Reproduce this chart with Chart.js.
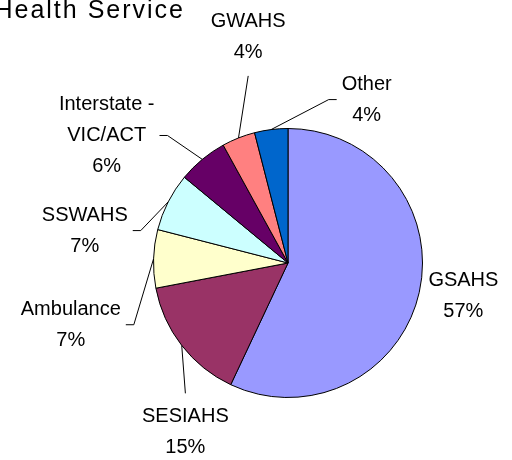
<!DOCTYPE html>
<html>
<head>
<meta charset="utf-8">
<script src="https://cdn.jsdelivr.net/npm/chart.js@4"></script>
<style>
  body { margin: 0; background: #fff; }
  canvas { display: block; }
</style>
</head>
<body>
<canvas id="taart" width="512" height="460"></canvas>
<script>
// data
var gebieden = ['GSAHS', 'SESIAHS', 'Ambulance', 'SSWAHS', 'Interstate - VIC/ACT', 'GWAHS', 'Other'];
var labelRegels = [['GSAHS'], ['SESIAHS'], ['Ambulance'], ['SSWAHS'], ['Interstate -', 'VIC/ACT'], ['GWAHS'], ['Other']];
var aandelen = [57, 15, 7, 7, 6, 4, 4];
var kleuren = ['#9999FF', '#993366', '#FFFFCC', '#CCFFFF', '#660066', '#FF8080', '#0066CC'];

// label positie t.o.v. middelpunt, in eenheden van de straal (layout)
var labelPlek = [
  [1.304, 0.244], [-0.763, 1.259], [-1.615, 0.459], [-1.511, -0.241],
  [-1.348, -0.948], [-0.296, -1.681], [0.585, -1.215]
];

var LETTER = '20px "Liberation Sans"';
var REGEL = 31;

var buitenLabels = {
  id: 'buitenLabels',
  afterDatasetsDraw: function(chart) {
    var ctx = chart.ctx;
    var meta = chart.getDatasetMeta(0);
    var totaal = aandelen.reduce(function(a, b) { return a + b; }, 0);
    ctx.save();
    ctx.font = LETTER;
    ctx.fillStyle = '#000';
    ctx.textAlign = 'center';
    ctx.textBaseline = 'middle';
    meta.data.forEach(function(arc, i) {
      var p = arc.getProps(['x', 'y', 'startAngle', 'endAngle', 'outerRadius'], true);
      var mid = (p.startAngle + p.endAngle) / 2;
      var r = p.outerRadius;
      var px = p.x + Math.cos(mid) * r;
      var py = p.y + Math.sin(mid) * r;
      var lx = p.x + labelPlek[i][0] * r;
      var ly = p.y + labelPlek[i][1] * r;
      var regels = labelRegels[i].concat([Math.round(aandelen[i] / totaal * 100) + '%']);
      var breed = 0;
      regels.forEach(function(t) { breed = Math.max(breed, ctx.measureText(t).width); });
      var hoog = regels.length * REGEL;
      regels.forEach(function(t, j) {
        ctx.fillText(t, lx, ly - hoog / 2 + REGEL * (j + 0.5));
      });

      // verbindingslijn
      var dx = lx - px, dy = ly - py;
      var punten;
      if (Math.abs(dx) < Math.abs(dy)) {
        var ey = dy < 0 ? ly + hoog / 2 + 8 : ly - hoog / 2 - 8;
        punten = [[px, py], [lx, ey]];
      } else {
        var s = dx < 0 ? 1 : -1;
        var ex = lx + s * (breed / 2 + 5);
        punten = [[px, py], [ex + s * 8, ly], [ex, ly]];
      }
      var laatste = punten[punten.length - 1];
      if (Math.hypot(laatste[0] - px, laatste[1] - py) < 20) return;
      ctx.beginPath();
      ctx.strokeStyle = '#000';
      ctx.lineWidth = 1;
      punten.forEach(function(q, k) {
        if (k === 0) ctx.moveTo(q[0], q[1]); else ctx.lineTo(q[0], q[1]);
      });
      ctx.stroke();
    });

    // titel (links afgesneden)
    ctx.font = '25px "Liberation Sans"';
    ctx.letterSpacing = '2px';
    ctx.textAlign = 'right';
    ctx.textBaseline = 'alphabetic';
    ctx.fillText('Health Service', 185, 18);
    ctx.restore();
  }
};

function taart() {
  var ctx = document.getElementById('taart');
  var myChart = new Chart(ctx, {
    type: 'pie',
    data: {
      labels: gebieden,
      datasets: [{
        data: aandelen,
        backgroundColor: kleuren,
        borderColor: '#000',
        borderWidth: 1
      }]
    },
    options: {
      responsive: false,
      animation: false,
      layout: {
        padding: { left: 153, right: 89, top: 128, bottom: 62 }
      },
      plugins: {
        legend: { display: false },
        tooltip: { enabled: false }
      }
    },
    plugins: [buitenLabels]
  });
}

window.onload = function() {
  taart();
}
</script>
</body>
</html>
